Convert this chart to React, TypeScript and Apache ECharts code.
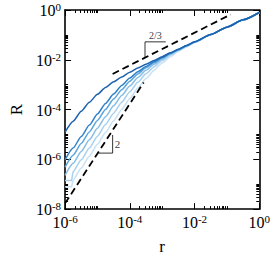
import React, { useEffect, useRef } from "react";
import * as echarts from "echarts";

// sample positions (log10 r)
const rExp = [-6, -5.75, -5.5, -5.25, -5, -4.75, -4.5, -4.25, -4, -3.75, -3.5, -3.25, -3, -2.75, -2.5, -2.25, -2, -1.5, -1, -0.5, 0];
const rExpLight = [-6, -5.8, -5.75, -5.5, -5.25, -5, -4.75, -4.5, -4.25, -4, -3.75, -3.5, -3.25, -3, -2.75, -2.5, -2.25, -2, -1.5, -1, -0.5, 0];

// log10 R, darkest to lightest
const curve1 = [-4.91, -4.47, -4.07, -3.71, -3.39, -3.11, -2.885, -2.69, -2.5, -2.335, -2.18, -2.03, -1.875, -1.72, -1.58, -1.43, -1.28, -0.985, -0.69, -0.395, -0.1];
const curve2 = [-6.02, -5.547, -5.081, -4.625, -4.179, -3.756, -3.373, -3.032, -2.733, -2.479, -2.266, -2.079, -1.904, -1.739, -1.586, -1.436, -1.283, -0.985, -0.69, -0.395, -0.1];
const curve3 = [-6.312, -5.833, -5.363, -4.898, -4.439, -3.995, -3.581, -3.202, -2.861, -2.568, -2.324, -2.115, -1.925, -1.752, -1.593, -1.44, -1.286, -0.987, -0.69, -0.395, -0.1];
const curve4 = [-6.643, -6.162, -5.688, -5.218, -4.748, -4.289, -3.85, -3.436, -3.052, -2.711, -2.423, -2.179, -1.965, -1.775, -1.607, -1.448, -1.29, -0.988, -0.69, -0.395, -0.1];
const curve5 = [-6.85, -6.85, -6.493, -6.017, -5.543, -5.068, -4.598, -4.144, -3.705, -3.286, -2.902, -2.566, -2.278, -2.029, -1.815, -1.63, -1.462, -1.298, -0.991, -0.69, -0.395, -0.1];
const curve6 = [-7.1, -7.1, -6.825, -6.348, -5.872, -5.393, -4.918, -4.453, -3.999, -3.555, -3.136, -2.757, -2.421, -2.128, -1.879, -1.67, -1.485, -1.312, -0.995, -0.69, -0.395, -0.1];
const curveColors = ["#1c62ae", "#2f80c8", "#5ba5dc", "#86bde6", "#a9d0ef", "#c8e1f5"];

// guide lines (log10 r, log10 R)
const slope2X = [-6, -3.57];
const slope2Y = [-7.77, -2.91];
const slope23X = [-4.53, -0.88];
const slope23Y = [-2.57, -0.18];
const bracket23X = [-3.53, -3.53, -2.89];
const bracket23Y = [-1.9, -1.28, -1.28];
const bracket2X = [-4.96, -4.53, -4.53];
const bracket2Y = [-5.75, -5.75, -5.02];
const label23 = { x: -3.21, y: -1.28, text: "2/3" };
const label2 = { x: -4.53, y: -5.38, text: "2" };

// ticks
const xMajorExp = [-6, -4, -2, 0];
const yMajorExp = [-8, -6, -4, -2, 0];
const minorMult = [2, 3, 4, 5, 6, 7, 8, 9, 10];

const SERIF = "'Liberation Serif', 'DejaVu Serif', serif";

function pts(xs: number[], ys: number[]) {
  return xs.map((x, i) => [Math.pow(10, x), Math.pow(10, ys[i])]);
}

export default function App() {
  const ref = useRef<HTMLDivElement>(null);
  useEffect(() => {
    if (!ref.current) return;
    const chart = echarts.init(ref.current, undefined, { renderer: "svg" });
    const xMajor = xMajorExp.map((e) => Math.pow(10, e));
    const yMajor = yMajorExp.map((e) => Math.pow(10, e));
    const xMinor: number[] = [];
    xMajorExp.slice(0, -1).forEach((e) => minorMult.forEach((m) => xMinor.push(m * Math.pow(10, e))));
    const yMinor: number[] = [];
    yMajorExp.slice(0, -1).forEach((e) => minorMult.forEach((m) => yMinor.push(m * Math.pow(10, e))));

    const fmt = (v: number) => `{b|10}{s|${Math.round(Math.log10(v))}}`;
    const rich = {
      b: { fontSize: 16, fontFamily: SERIF, color: "#000", lineHeight: 17, verticalAlign: "bottom" },
      s: { fontSize: 11, fontFamily: SERIF, color: "#000", lineHeight: 11, padding: [0, 0, 9, 0], verticalAlign: "top" },
    };
    const line = { show: true, lineStyle: { color: "#000", width: 1.6 } };
    const mkAxis = (
      kind: "x" | "y",
      position: string,
      major: boolean,
      showLabel: boolean,
      extra: any = {}
    ) => ({
      type: "log",
      logBase: 10,
      min: kind === "x" ? 1e-6 : 1e-8,
      max: 1,
      position,
      axisLine: major ? line : { show: false },
      axisTick: {
        show: true,
        inside: true,
        length: major ? 6 : 3,
        customValues: major ? (kind === "x" ? xMajor : yMajor) : kind === "x" ? xMinor : yMinor,
        lineStyle: { color: "#000", width: 1 },
      },
      axisLabel: showLabel
        ? { show: true, customValues: kind === "x" ? xMajor : yMajor, formatter: fmt, rich, margin: 4 }
        : { show: false },
      splitLine: { show: false },
      minorTick: { show: false },
      ...extra,
    });

    const curves = [curve1, curve2, curve3, curve4, curve5, curve6];
    const curveSeries = curves
      .map((c, i) => ({
        type: "line",
        data: pts(i >= 4 ? rExpLight : rExp, c),
        showSymbol: false,
        symbol: "none",
        smooth: 0.2,
        smoothMonotone: "x",
        lineStyle: { color: curveColors[i], width: 1.5 },
        z: 10 - i,
      }))
      .reverse();

    const dashed = (xs: number[], ys: number[]) => ({
      type: "line",
      data: pts(xs, ys),
      showSymbol: false,
      symbol: "none",
      lineStyle: { color: "#000", width: 1.8, type: [7, 4] },
      z: 20,
    });
    const solid = (xs: number[], ys: number[]) => ({
      type: "line",
      data: pts(xs, ys),
      showSymbol: false,
      symbol: "none",
      lineStyle: { color: "#000", width: 0.8 },
      z: 20,
    });
    const textAt = (l: { x: number; y: number; text: string }, position: string, size: number, distance: number) => ({
      type: "scatter",
      data: [[Math.pow(10, l.x), Math.pow(10, l.y)]],
      symbolSize: 0,
      label: {
        show: true,
        position,
        distance,
        formatter: l.text,
        fontFamily: SERIF,
        fontSize: size,
        color: "#000",
      },
      z: 20,
    });

    chart.setOption({
      animation: false,
      backgroundColor: "#fff",
      grid: { left: 43, right: 11, top: 10, bottom: 32, containLabel: false },
      xAxis: [
        mkAxis("x", "bottom", true, true, {
          name: "r",
          nameLocation: "middle",
          nameGap: 26,
          nameTextStyle: { fontFamily: SERIF, fontSize: 17, color: "#000" },
        }),
        mkAxis("x", "bottom", false, false),
        mkAxis("x", "top", true, false),
        mkAxis("x", "top", false, false),
      ],
      yAxis: [
        mkAxis("y", "left", true, true, {
          name: "R",
          nameLocation: "middle",
          nameGap: 33,
          nameTextStyle: { fontFamily: SERIF, fontSize: 17, color: "#000" },
        }),
        mkAxis("y", "left", false, false),
        mkAxis("y", "right", true, false),
        mkAxis("y", "right", false, false),
      ],
      series: [
        ...curveSeries,
        dashed(slope2X, slope2Y),
        dashed(slope23X, slope23Y),
        solid(bracket23X, bracket23Y),
        solid(bracket2X, bracket2Y),
        textAt(label23, "top", 10, 1),
        textAt(label2, "right", 11, 2),
      ],
    });
    return () => chart.dispose();
  }, []);
  return (
    <div
      ref={ref}
      style={{ position: "absolute", left: 0, top: 0, width: 273, height: 260, background: "#fff" }}
    />
  );
}
